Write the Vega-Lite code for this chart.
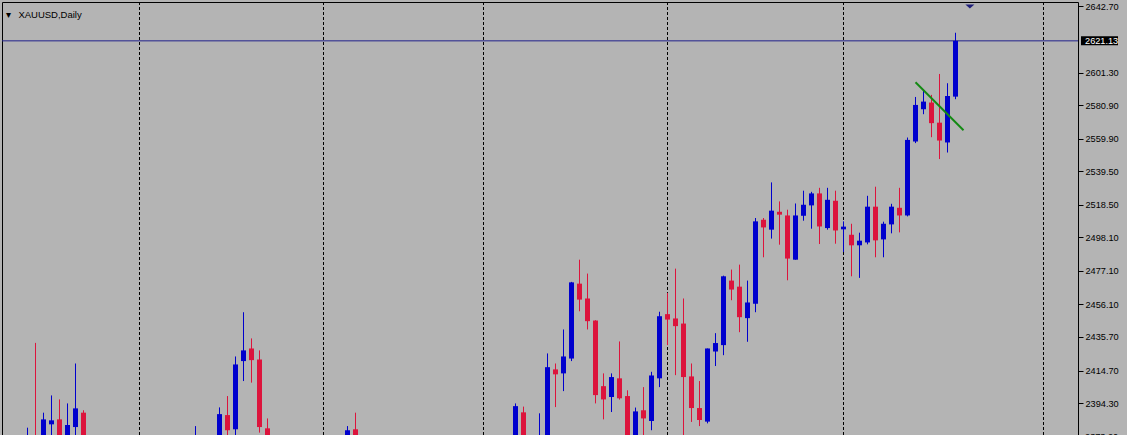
{
  "$schema": "https://vega.github.io/schema/vega-lite/v6.json",
  "width": 1076,
  "height": 433,
  "autosize": {"type": "none"},
  "padding": {"left": 2, "top": 2, "right": 49, "bottom": 0},
  "background": "#b4b4b4",
  "config": {"view": {"stroke": "#000000", "strokeWidth": 1, "fill": "#b4b4b4"}},
  "title": {"text": "▾\u2002 XAUUSD,Daily", "anchor": "start", "frame": "group", "offset": 0, "dx": 4, "dy": 18, "font": "Liberation Sans", "fontSize": 9.5, "fontWeight": "normal", "color": "#000000"},
  "datasets": {
    "candles": [
      {"i":0,"o":2362,"h":2378.9,"l":2355,"c":2372,"dir":"up"},
      {"i":1,"o":2372,"h":2432.0,"l":2358,"c":2365,"dir":"down"},
      {"i":2,"o":2368,"h":2388.3,"l":2362,"c":2384.1,"dir":"up"},
      {"i":3,"o":2381.0,"h":2399.1,"l":2370,"c":2383.5,"dir":"up"},
      {"i":4,"o":2384.1,"h":2396.6,"l":2365,"c":2370,"dir":"down"},
      {"i":5,"o":2368,"h":2394.1,"l":2362,"c":2380.6,"dir":"up"},
      {"i":6,"o":2379.3,"h":2419.1,"l":2370,"c":2391.0,"dir":"up"},
      {"i":7,"o":2388.3,"h":2389.8,"l":2365,"c":2370,"dir":"down"},
      {"i":21,"o":2365,"h":2379.9,"l":2360,"c":2373,"dir":"up"},
      {"i":24,"o":2368,"h":2391.6,"l":2365,"c":2387.4,"dir":"up"},
      {"i":25,"o":2386.8,"h":2398.7,"l":2372,"c":2377.3,"dir":"down"},
      {"i":26,"o":2377.9,"h":2423.5,"l":2370,"c":2418.5,"dir":"up"},
      {"i":27,"o":2420.6,"h":2451.2,"l":2408.1,"c":2427.3,"dir":"up"},
      {"i":28,"o":2428.5,"h":2434.8,"l":2407.1,"c":2421.2,"dir":"down"},
      {"i":29,"o":2421.6,"h":2427.3,"l":2375.8,"c":2379.3,"dir":"down"},
      {"i":30,"o":2378.5,"h":2384.7,"l":2365,"c":2368,"dir":"down"},
      {"i":40,"o":2372,"h":2379.9,"l":2368,"c":2377.3,"dir":"up"},
      {"i":41,"o":2377.9,"h":2388.3,"l":2365,"c":2370,"dir":"down"},
      {"i":61,"o":2370,"h":2394.1,"l":2365,"c":2392.4,"dir":"up"},
      {"i":62,"o":2388.5,"h":2392.1,"l":2365,"c":2370,"dir":"down"},
      {"i":64,"o":2368,"h":2387.9,"l":2362,"c":2373,"dir":"up"},
      {"i":65,"o":2372,"h":2425.4,"l":2368,"c":2416.8,"dir":"up"},
      {"i":66,"o":2415.4,"h":2419.1,"l":2391.8,"c":2412.3,"dir":"down"},
      {"i":67,"o":2412.9,"h":2440.4,"l":2401.8,"c":2423.5,"dir":"up"},
      {"i":68,"o":2422.2,"h":2470.2,"l":2420.6,"c":2469.9,"dir":"up"},
      {"i":69,"o":2469.1,"h":2484.1,"l":2451.8,"c":2459.1,"dir":"down"},
      {"i":70,"o":2459.8,"h":2475.4,"l":2440.4,"c":2445.6,"dir":"down"},
      {"i":71,"o":2446.0,"h":2446.2,"l":2394.1,"c":2399.3,"dir":"down"},
      {"i":72,"o":2404.9,"h":2412.9,"l":2384.1,"c":2396.6,"dir":"down"},
      {"i":73,"o":2398.1,"h":2412.9,"l":2388.7,"c":2410.6,"dir":"up"},
      {"i":74,"o":2409.8,"h":2432.9,"l":2396.5,"c":2397.3,"dir":"down"},
      {"i":75,"o":2398.7,"h":2402.3,"l":2370,"c":2373,"dir":"down"},
      {"i":76,"o":2373,"h":2391.5,"l":2368,"c":2389.1,"dir":"up"},
      {"i":77,"o":2389.8,"h":2404.3,"l":2372,"c":2384.7,"dir":"down"},
      {"i":78,"o":2383.1,"h":2413.9,"l":2377.3,"c":2411.6,"dir":"up"},
      {"i":79,"o":2409.8,"h":2451.5,"l":2404.3,"c":2448.7,"dir":"up"},
      {"i":80,"o":2450.0,"h":2463.3,"l":2430.6,"c":2446.6,"dir":"down"},
      {"i":81,"o":2447.3,"h":2478.5,"l":2411.8,"c":2442.5,"dir":"down"},
      {"i":82,"o":2444.1,"h":2459.8,"l":2372,"c":2410.6,"dir":"down"},
      {"i":83,"o":2411.0,"h":2419.1,"l":2382.5,"c":2391.2,"dir":"down"},
      {"i":84,"o":2391.2,"h":2408.1,"l":2379.9,"c":2383.7,"dir":"down"},
      {"i":85,"o":2382.7,"h":2428.5,"l":2381.6,"c":2428.5,"dir":"up"},
      {"i":86,"o":2426.6,"h":2438.1,"l":2417.5,"c":2431.9,"dir":"up"},
      {"i":87,"o":2430.6,"h":2474.1,"l":2424.3,"c":2473.7,"dir":"up"},
      {"i":88,"o":2471.0,"h":2477.9,"l":2458.7,"c":2465.4,"dir":"down"},
      {"i":89,"o":2467.2,"h":2481.0,"l":2438.7,"c":2448.1,"dir":"down"},
      {"i":90,"o":2447.5,"h":2471.0,"l":2432.7,"c":2457.3,"dir":"up"},
      {"i":91,"o":2456.5,"h":2510.2,"l":2451.2,"c":2508.1,"dir":"up"},
      {"i":92,"o":2509.1,"h":2510.2,"l":2485.6,"c":2504.3,"dir":"down"},
      {"i":93,"o":2502.9,"h":2532.5,"l":2497.3,"c":2514.8,"dir":"up"},
      {"i":94,"o":2514.1,"h":2520.6,"l":2493.5,"c":2512.3,"dir":"down"},
      {"i":95,"o":2511.8,"h":2515.4,"l":2471.2,"c":2484.8,"dir":"down"},
      {"i":96,"o":2484.1,"h":2519.3,"l":2484.1,"c":2511.8,"dir":"up"},
      {"i":97,"o":2511.6,"h":2527.3,"l":2508.5,"c":2518.5,"dir":"up"},
      {"i":98,"o":2518.1,"h":2526.6,"l":2503.5,"c":2525.6,"dir":"up"},
      {"i":99,"o":2525.6,"h":2529.1,"l":2493.9,"c":2504.9,"dir":"down"},
      {"i":100,"o":2503.9,"h":2529.1,"l":2502.9,"c":2521.6,"dir":"up"},
      {"i":101,"o":2521.0,"h":2527.3,"l":2494.1,"c":2502.4,"dir":"down"},
      {"i":102,"o":2503.1,"h":2508.1,"l":2488.9,"c":2504.8,"dir":"up"},
      {"i":103,"o":2499.7,"h":2506.6,"l":2473.7,"c":2493.1,"dir":"down"},
      {"i":104,"o":2493.1,"h":2501.0,"l":2472.7,"c":2496.0,"dir":"up"},
      {"i":105,"o":2494.9,"h":2524.1,"l":2493.7,"c":2517.3,"dir":"up"},
      {"i":106,"o":2517.3,"h":2529.8,"l":2485.6,"c":2496.2,"dir":"down"},
      {"i":107,"o":2496.8,"h":2507.9,"l":2485.6,"c":2506.6,"dir":"up"},
      {"i":108,"o":2506.2,"h":2519.1,"l":2500.6,"c":2517.3,"dir":"up"},
      {"i":109,"o":2516.6,"h":2529.1,"l":2501.2,"c":2511.8,"dir":"down"},
      {"i":110,"o":2511.8,"h":2560.6,"l":2511.2,"c":2559.1,"dir":"up"},
      {"i":111,"o":2558.1,"h":2586.0,"l":2557.1,"c":2581.0,"dir":"up"},
      {"i":112,"o":2578.3,"h":2590.4,"l":2575.2,"c":2583.1,"dir":"up"},
      {"i":113,"o":2582.5,"h":2587.3,"l":2560.8,"c":2569.6,"dir":"down"},
      {"i":114,"o":2569.9,"h":2600.4,"l":2547.1,"c":2558.7,"dir":"down"},
      {"i":115,"o":2557.5,"h":2594.6,"l":2551.2,"c":2586.6,"dir":"up"},
      {"i":116,"o":2586.2,"h":2626.2,"l":2584.6,"c":2621.13,"dir":"up"}
    ],
    "grid": [{"i":14},{"i":37},{"i":57},{"i":80},{"i":102},{"i":127}],
    "price": [{"p":2621.13}],
    "trend": [{"i":111,"p":2595.2},{"i":117,"p":2565.2}]
  },
  "layer": [
    {
      "data": {"name": "grid"},
      "mark": {"type": "rule", "color": "#000000", "strokeWidth": 1, "strokeDash": [3, 2]},
      "encoding": {
        "x": {"field": "i", "type": "quantitative", "scale": {"domain": [-3.1875, 131.3125], "nice": false, "zero": false, "padding": 0}, "axis": null}
      }
    },
    {
      "data": {"name": "price"},
      "mark": {"type": "rule", "color": "#20208c", "strokeWidth": 1},
      "encoding": {
        "y": {"field": "p", "type": "quantitative", "scale": {"domain": [2374.32, 2645.46], "nice": false, "zero": false, "padding": 0},
          "axis": {"orient": "right", "values": [2642.7, 2601.3, 2580.9, 2559.9, 2539.5, 2518.5, 2498.1, 2477.1, 2456.1, 2435.7, 2414.7, 2394.3], "tickCount": 30, "format": ".2f", "title": null, "domain": false, "grid": false, "ticks": true, "tickSize": 5, "tickColor": "#000000", "tickWidth": 1, "labelPadding": 2, "labelFont": "Liberation Sans", "labelFontSize": 9.2, "labelColor": "#000000", "labelFlush": false, "labelOverlap": false}}
      }
    },
    {
      "data": {"name": "candles"},
      "mark": {"type": "rule", "strokeWidth": 1, "clip": true},
      "encoding": {
        "x": {"field": "i", "type": "quantitative", "axis": null},
        "y": {"field": "l", "type": "quantitative"},
        "y2": {"field": "h"},
        "color": {"field": "dir", "type": "nominal", "scale": {"domain": ["up", "down"], "range": ["#0000cd", "#dc143c"]}, "legend": null}
      }
    },
    {
      "data": {"name": "candles"},
      "mark": {"type": "bar", "size": 5, "clip": true},
      "encoding": {
        "x": {"field": "i", "type": "quantitative", "axis": null},
        "y": {"field": "o", "type": "quantitative"},
        "y2": {"field": "c"},
        "color": {"field": "dir", "type": "nominal", "scale": {"domain": ["up", "down"], "range": ["#0000cd", "#dc143c"]}, "legend": null}
      }
    },
    {
      "data": {"name": "trend"},
      "mark": {"type": "line", "color": "#138a13", "strokeWidth": 2},
      "encoding": {
        "x": {"field": "i", "type": "quantitative", "axis": null},
        "y": {"field": "p", "type": "quantitative"}
      }
    },
    {
      "data": {"name": "price"},
      "mark": {"type": "point", "shape": "M-1,-0.45L1,-0.45L0,0.45Z", "size": 81, "filled": true, "color": "#20207a", "opacity": 1},
      "encoding": {
        "x": {"datum": 117.8, "type": "quantitative", "axis": null},
        "y": {"datum": 2642.6, "type": "quantitative"}
      }
    },
    {
      "data": {"name": "price"},
      "mark": {"type": "tick", "orient": "horizontal", "size": 37, "thickness": 9, "color": "#000000", "opacity": 1, "clip": false},
      "encoding": {
        "x": {"datum": 134.0, "type": "quantitative", "axis": null},
        "y": {"field": "p", "type": "quantitative"}
      }
    },
    {
      "data": {"name": "price"},
      "mark": {"type": "text", "align": "left", "baseline": "middle", "font": "Liberation Sans", "fontSize": 9.2, "color": "#ffffff", "clip": false},
      "encoding": {
        "x": {"datum": 132.19, "type": "quantitative", "axis": null},
        "y": {"field": "p", "type": "quantitative"},
        "text": {"field": "p", "type": "quantitative", "format": ".2f"}
      }
    },
    {
      "data": {"name": "price"},
      "mark": {"type": "text", "align": "left", "baseline": "middle", "font": "Liberation Sans", "fontSize": 9.2, "color": "#000000", "clip": false},
      "encoding": {
        "x": {"datum": 132.19, "type": "quantitative", "axis": null},
        "y": {"datum": 2373.2, "type": "quantitative"},
        "text": {"value": "2373.20"}
      }
    }
  ]
}
